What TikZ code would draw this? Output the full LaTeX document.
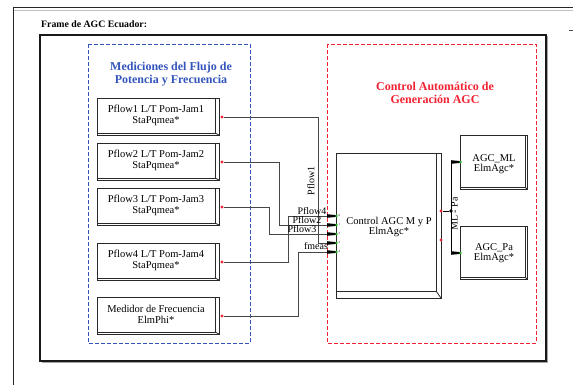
\documentclass[tikz,border=0pt]{standalone}
\usepackage{fontspec}
\setmainfont{Liberation Serif}
\usetikzlibrary{calc}
\definecolor{mblue}{RGB}{51,85,187}
\definecolor{mred}{RGB}{240,35,50}
\definecolor{mgreen}{RGB}{40,180,40}
\definecolor{edgecol}{RGB}{40,40,40}
\definecolor{wirecol}{RGB}{70,70,70}
\newcommand\stripbox[3]{%
  \draw[edge] (#1.north east) -- ++(#2,0) -- ($(#1.south east)+(#2,#3)$) -- ($(#1.south west)+(0,#3)$) -- (#1.south west);
  \draw[edge] (#1.south east) -- ++(#2,#3);}
\begin{document}
\begin{tikzpicture}[x=1pt,y=-1pt,
  edge/.style={draw=edgecol,line width=0.8pt},
  blk/.style={draw=edgecol,line width=0.8pt,inner sep=0pt,outer sep=0pt,align=center,
    font=\fontsize{10.5}{10.5}\selectfont},
  meas/.style={blk,minimum width=118pt,minimum height=35pt},
  wire/.style={draw=wirecol,line width=0.7pt},
  rdot/.style={circle,fill=mred,inner sep=0pt,minimum size=3.2pt},
  gdot/.style={circle,fill=mgreen,inner sep=0pt,minimum size=2.6pt},
  bdot/.style={circle,fill=black,inner sep=0pt,minimum size=3.6pt},
  sig/.style={inner sep=0pt,font=\fontsize{10}{10}\selectfont},
  tiny/.style={inner sep=0pt,font=\fontsize{3}{3}\selectfont},
  wedge/.style={fill=black}]
\useasboundingbox (0,0) rectangle (573,385);
% outer frame
\draw[black!85,line width=1pt] (13,385) -- (13,8) -- (573,8);
\draw[black!25,line width=0.6pt] (14,10.2) -- (573,10.2);
\draw[black!70,line width=0.6pt] (569,30) -- (573,30);
\node[anchor=west,inner sep=0pt,font=\fontsize{9.8}{10}\selectfont\bfseries] (ftitle) at (41,24) {Frame de AGC Ecuador:};
% inner frame
\draw[black!35,line width=1pt] (41.5,362.5) -- (547.5,362.5) -- (547.5,36.5);
\draw[black!90,line width=1.1pt] (40,35) rectangle (546,361);
% group boxes
\draw[mblue,line width=0.9pt,dash pattern=on 4pt off 2pt] (88,44) rectangle (250,343);
\draw[mred,line width=0.9pt,dash pattern=on 4pt off 2pt] (327,44) rectangle (536,343);
\node[align=center,inner sep=0pt,text=mblue,font=\fontsize{12}{13}\selectfont\bfseries] (btitle) at (171,74.5) {Mediciones del Flujo de\\Potencia y Frecuencia};
\node[align=center,inner sep=0pt,text=mred,font=\fontsize{12}{13}\selectfont\bfseries] (rtitle) at (435,92.5) {Control Automático de\\Generación AGC};
% measurement boxes
\node[meas] (m1) at (156,115.5) {Pflow1 L/T Pom-Jam1\\StaPqmea*};
\node[meas] (m2) at (156,160.5) {Pflow2 L/T Pom-Jam2\\StaPqmea*};
\node[meas] (m3) at (156,205.5) {Pflow3 L/T Pom-Jam3\\StaPqmea*};
\node[meas] (m4) at (156,260.5) {Pflow4 L/T Pom-Jam4\\StaPqmea*};
\node[meas] (m5) at (156,314.5) {Medidor de Frecuencia\\ElmPhi*};
\foreach \n in {m1,m2,m3,m4,m5} {\stripbox{\n}{4}{2}}
% output dots of measurement boxes
\node[rdot] (o1) at (222,117) {};
\node[rdot] (o2) at (222,162) {};
\node[rdot] (o3) at (222,207) {};
\node[rdot] (o4) at (222,262) {};
\node[rdot] (o5) at (222,316) {};
% control block
\node[blk,minimum width=100pt,minimum height=138pt] (ctrl) at (386,222) {};
\stripbox{ctrl}{5}{7}
\node[align=center,inner sep=0pt,font=\fontsize{10.5}{10}\selectfont] (ctext) at (389,227) {Control AGC M y P\\ElmAgc*};
% AGC boxes
\node[blk,minimum width=65pt,minimum height=52pt] (ml) at (492.5,161) {};
\node[blk,minimum width=65pt,minimum height=51pt] (pa) at (492.5,251.5) {};
\stripbox{ml}{2}{2}
\stripbox{pa}{2}{2}
\node[align=center,inner sep=0pt,font=\fontsize{10.5}{10}\selectfont] (mltext) at (494,164) {AGC\_ML\\ElmAgc*};
\node[align=center,inner sep=0pt,font=\fontsize{10.5}{10}\selectfont] (patext) at (494,253) {AGC\_Pa\\ElmAgc*};
% input ports of control block
\foreach \i/\y in {0/216,1/225,2/234,3/243,4/252} {
  \coordinate (w\i) at (327,\y);
  \fill[wedge] (327,\y-1.8) -- (336,\y-0.9) -- (336,\y+0.9) -- (327,\y+1.8) -- cycle;
  \node[gdot] (p\i) at (336.5,\y) {};
  \node[tiny,anchor=west] (n\i) at (338.5,\y-0.8) {\i};
}
% wires
\draw[wire] (o1) -- (318,117) -- (318,243) -- (w3);
\draw[wire] (o2) -- (279,162) -- (279,225) -- (w1);
\draw[wire] (o3) -- (269,207) -- (269,234) -- (w2);
\draw[wire] (o4) -- (288,262) -- (288,216) -- (w0);
\draw[wire] (o5) -- (298,316) -- (298,252) -- (w4);
% signal labels
\node[sig,rotate=90] (l1) at (311,181) {Pflow1};
\node[sig] (l4) at (312,211) {Pflow4};
\node[sig] (l2) at (307,220) {Pflow2};
\node[sig] (l3) at (302,229) {Pflow3};
\node[sig] (l5) at (316,246.5) {fmeas};
% outputs of control block
\node[rdot] (q1) at (441,211) {};
\node[rdot] (q2) at (441,240) {};
\node[bdot] (j) at (451,211) {};
\coordinate (mlin) at (451,162);
\coordinate (pain) at (451,253);
\draw[black,line width=0.8pt] (q1) -- (j);
\draw[black,line width=0.8pt] (mlin) -- (pain);
\fill[wedge] (451,162-1.8) -- (460,162-0.9) -- (460,162+0.9) -- (451,162+1.8) -- cycle;
\fill[wedge] (451,253-1.8) -- (460,253-0.9) -- (460,253+0.9) -- (451,253+1.8) -- cycle;
\node[gdot] (g1) at (460.5,162) {};
\node[gdot] (g2) at (460.5,253) {};
\node[sig,rotate=90] (lmp) at (454.5,214) {ML - Pa};
\end{tikzpicture}
\end{document}
